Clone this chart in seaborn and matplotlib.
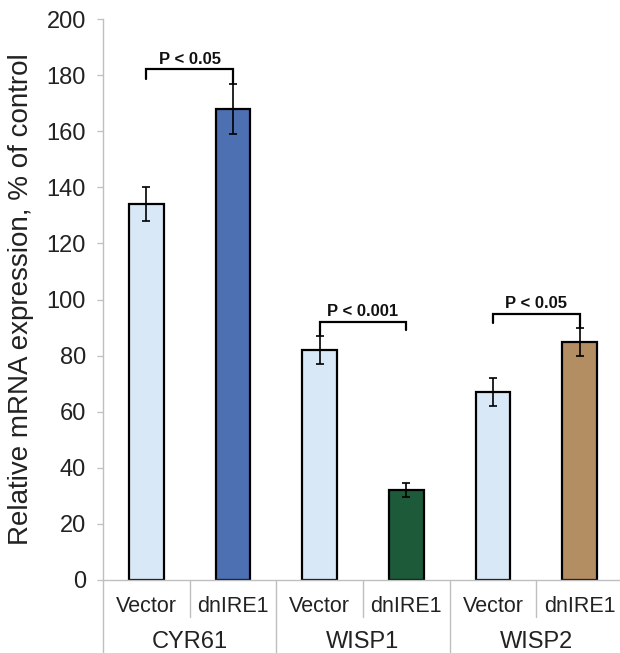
import matplotlib
matplotlib.use("Agg")
import matplotlib.pyplot as plt
import seaborn as sns
import pandas as pd
import numpy as np

genes = ["CYR61", "CYR61", "WISP1", "WISP1", "WISP2", "WISP2"]
conditions = ["Vector", "dnIRE1", "Vector", "dnIRE1", "Vector", "dnIRE1"]
values = [134, 168, 82, 32, 67, 85]
errors = [6, 9, 5, 2.5, 5, 5]
bar_colors = ["#d9e8f6", "#4d70b2", "#d9e8f6", "#1d5a3a", "#d9e8f6", "#b48e63"]
group_names = ["CYR61", "WISP1", "WISP2"]
p_texts = ["P < 0.05", "P < 0.001", "P < 0.05"]
p_bracket_y = [182, 92, 95]
p_leg_left = [178.6, 87.5, 91.5]
p_leg_right = [177, 89, 90]
yticks = list(range(0, 201, 20))

sns.set_theme(style="white")
plt.rcParams['font.family'] = ['Liberation Sans', 'DejaVu Sans']

keys = [f"{g}|{c}" for g, c in zip(genes, conditions)]
df = pd.DataFrame({"key": keys, "value": values})

fig = plt.figure(figsize=(6.2, 6.53), dpi=100)
ax = fig.add_axes([103/620, 1-580/653, 520/620, 561/653])

sns.barplot(data=df, x="key", y="value", hue="key", palette=bar_colors,
            order=keys, hue_order=keys, legend=False, width=0.4,
            edgecolor="black", linewidth=1.6, ax=ax, errorbar=None, saturation=1)

xs = np.arange(len(values))
ax.errorbar(xs, values, yerr=errors, fmt="none", ecolor="black",
            elinewidth=1.2, capsize=3, capthick=1.2, zorder=5)

ax.set_xlim(-0.5, 5.5)
ax.set_ylim(0, 200)
ax.set_yticks(yticks)
ax.set_yticklabels([str(t) for t in yticks], fontsize=17, color="#222222")
ax.tick_params(axis="y", length=4.3, width=0.9, color="#bfbfbf", pad=8, left=True)
ax.set_xticks([])
ax.set_xlabel("")
ax.set_ylabel("Relative mRNA expression, % of control", fontsize=20, color="#222222", labelpad=9)

for s in ["top", "right"]:
    ax.spines[s].set_visible(False)
for s in ["left", "bottom"]:
    ax.spines[s].set_color("#bfbfbf")
    ax.spines[s].set_linewidth(1.0)

trans = ax.get_xaxis_transform()
# separators
for x in [0.5, 2.5, 4.5]:
    ax.plot([x, x], [0, -0.066], transform=trans, color="#bfbfbf", lw=1.0, clip_on=False)
for x in [-0.5, 1.5, 3.5, 5.5]:
    ax.plot([x, x], [0, -0.15], transform=trans, color="#bfbfbf", lw=1.0, clip_on=False)
# condition labels
for x, c in zip(xs, conditions):
    ax.text(x, -0.048, c, transform=trans, ha="center", va="center", fontsize=15.5, color="#222222")
for i, g in enumerate(group_names):
    ax.text(2*i + 0.5, -0.11, g, transform=trans, ha="center", va="center", fontsize=17, color="#222222")

# significance brackets
for i in range(3):
    x0, x1 = 2*i, 2*i + 1
    yb = p_bracket_y[i]
    ax.plot([x0, x0, x1, x1], [p_leg_left[i], yb, yb, p_leg_right[i]], color="black", lw=1.6, zorder=6,
            solid_joinstyle="miter")
    ax.text((x0 + x1)/2, yb + 1.0, p_texts[i], ha="center", va="bottom", fontsize=12,
            fontweight="bold", color="#111111")

fig.savefig("out.png", dpi=100)
